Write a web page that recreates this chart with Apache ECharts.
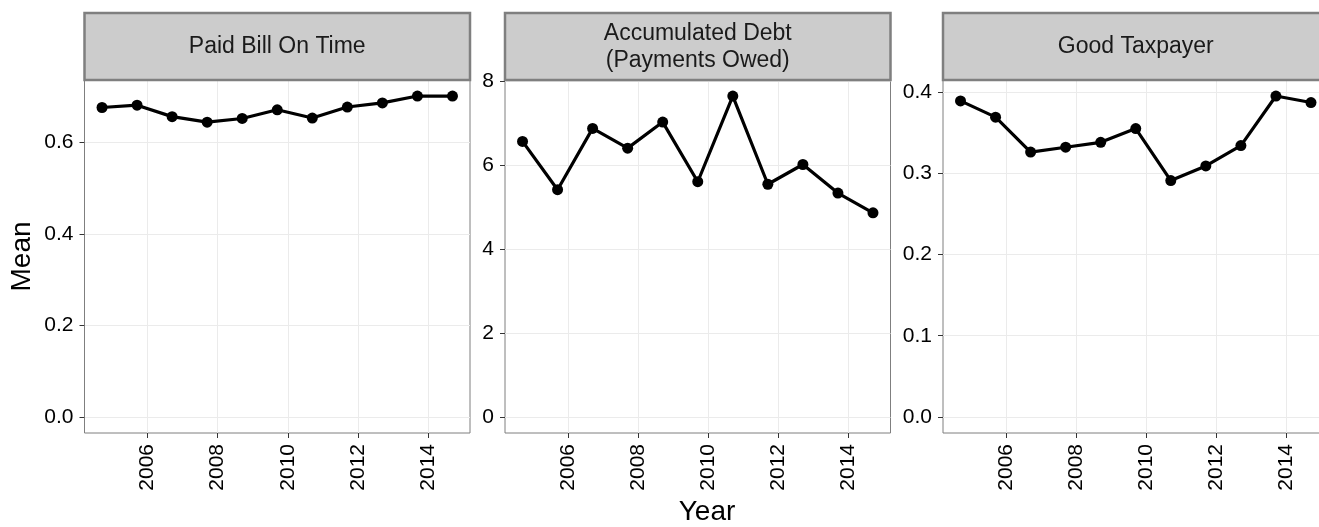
<!DOCTYPE html>
<html>
<head>
<meta charset="utf-8">
<script src="https://cdn.jsdelivr.net/npm/echarts@6/dist/echarts.min.js"></script>
<style>
  html, body { margin: 0; padding: 0; background: #ffffff; }
  #chart { width: 1319px; height: 527px; }
</style>
</head>
<body>
<div id="chart"></div>
<script>
// Survey years (points sit part-way through each calendar year)
const years = [2004.7, 2005.7, 2006.7, 2007.7, 2008.7, 2009.7, 2010.7, 2011.7, 2012.7, 2013.7, 2014.7];
const yearTicks = [2006, 2008, 2010, 2012, 2014];

// Facet titles
const panelTitles = ['Paid Bill On Time', 'Accumulated Debt\n(Payments Owed)', 'Good Taxpayer'];

// Yearly means per measure
const paidBillOnTime = [0.676, 0.681, 0.656, 0.644, 0.652, 0.671, 0.653, 0.677, 0.686, 0.701, 0.701];
const accumulatedDebt = [6.56, 5.41, 6.87, 6.40, 7.02, 5.60, 7.64, 5.54, 6.01, 5.33, 4.86];
const goodTaxpayer = [0.389, 0.369, 0.326, 0.332, 0.338, 0.355, 0.291, 0.309, 0.334, 0.395, 0.387];

// Y tick values per panel
const paidTicks = [0, 0.2, 0.4, 0.6];
const debtTicks = [0, 2, 4, 6, 8];
const taxTicks = [0, 0.1, 0.2, 0.3, 0.4];

const FONT = '"Liberation Sans", Arial, Helvetica, sans-serif';
const panels = [
  { values: paidBillOnTime, ticks: paidTicks, digits: 1, left: 84.5 },
  { values: accumulatedDebt, ticks: debtTicks, digits: 0, left: 505 },
  { values: goodTaxpayer, ticks: taxTicks, digits: 1, left: 943 }
];
const PANEL_W = 385.5, PANEL_TOP = 80, PANEL_H = 353, STRIP_TOP = 13;

// Scale ranges padded by 5% on each side, y always reaching down to zero
function padded(lo, hi) {
  const p = (hi - lo) * 0.05;
  return [lo - p, hi + p];
}
const xRange = padded(Math.min(...years), Math.max(...years));

const grids = [], xAxes = [], yAxes = [], series = [], graphics = [];

panels.forEach((pn, i) => {
  const yRange = padded(Math.min(0, ...pn.values), Math.max(...pn.values));
  grids.push({
    left: pn.left, top: PANEL_TOP, width: PANEL_W, height: PANEL_H,
    show: true, borderColor: '#7f7f7f', borderWidth: 1, backgroundColor: '#ffffff',
    containLabel: false, outerBoundsMode: 'none'
  });
  xAxes.push({
    gridIndex: i, type: 'value', min: xRange[0], max: xRange[1], position: 'bottom',
    axisLine: { show: false, onZero: false },
    axisTick: { show: true, customValues: yearTicks, length: 5, lineStyle: { color: '#333333', width: 1 } },
    axisLabel: {
      customValues: yearTicks, rotate: 90, margin: 11, fontSize: 21, color: '#000000', fontFamily: FONT,
      formatter: v => String(Math.round(v))
    },
    splitLine: { show: true, lineStyle: { color: '#ebebeb', width: 1 } }
  });
  yAxes.push({
    gridIndex: i, type: 'value', min: yRange[0], max: yRange[1], position: 'left',
    axisLine: { show: false, onZero: false },
    axisTick: { show: true, customValues: pn.ticks, length: 5, lineStyle: { color: '#333333', width: 1 } },
    axisLabel: {
      customValues: pn.ticks, margin: 11, fontSize: 21, color: '#000000', fontFamily: FONT,
      formatter: v => Number(v).toFixed(pn.digits)
    },
    splitLine: { show: true, lineStyle: { color: '#ebebeb', width: 1 } }
  });
  series.push({
    type: 'line', xAxisIndex: i, yAxisIndex: i,
    data: years.map((y, k) => [y, pn.values[k]]),
    symbol: 'circle', symbolSize: 11, showSymbol: true,
    lineStyle: { color: '#000000', width: 3.2 },
    itemStyle: { color: '#000000' },
    silent: true
  });
  // facet strip
  graphics.push({
    type: 'rect', shape: { x: pn.left, y: STRIP_TOP, width: PANEL_W, height: PANEL_TOP - STRIP_TOP },
    style: { fill: '#cccccc', stroke: '#7f7f7f', lineWidth: 2.5 }, z: 10
  });
  graphics.push({
    type: 'text', x: pn.left + PANEL_W / 2, y: (STRIP_TOP + PANEL_TOP) / 2 + 0.5,
    style: { text: panelTitles[i], font: '23px ' + FONT, fill: '#1a1a1a', align: 'center', verticalAlign: 'middle', lineHeight: 27 },
    z: 11
  });
});

// Axis titles
graphics.push({
  type: 'text', x: 22.5, y: 256.5, rotation: Math.PI / 2,
  style: { text: 'Mean', font: '28px ' + FONT, fill: '#000000', align: 'center', verticalAlign: 'middle' }
});
graphics.push({
  type: 'text', x: 707, y: 512,
  style: { text: 'Year', font: '28px ' + FONT, fill: '#000000', align: 'center', verticalAlign: 'middle' }
});

const chart = echarts.init(document.getElementById('chart'), null, { renderer: 'canvas' });
chart.setOption({
  animation: false,
  backgroundColor: '#ffffff',
  grid: grids,
  xAxis: xAxes,
  yAxis: yAxes,
  series: series,
  graphic: graphics
});
</script>
</body>
</html>
